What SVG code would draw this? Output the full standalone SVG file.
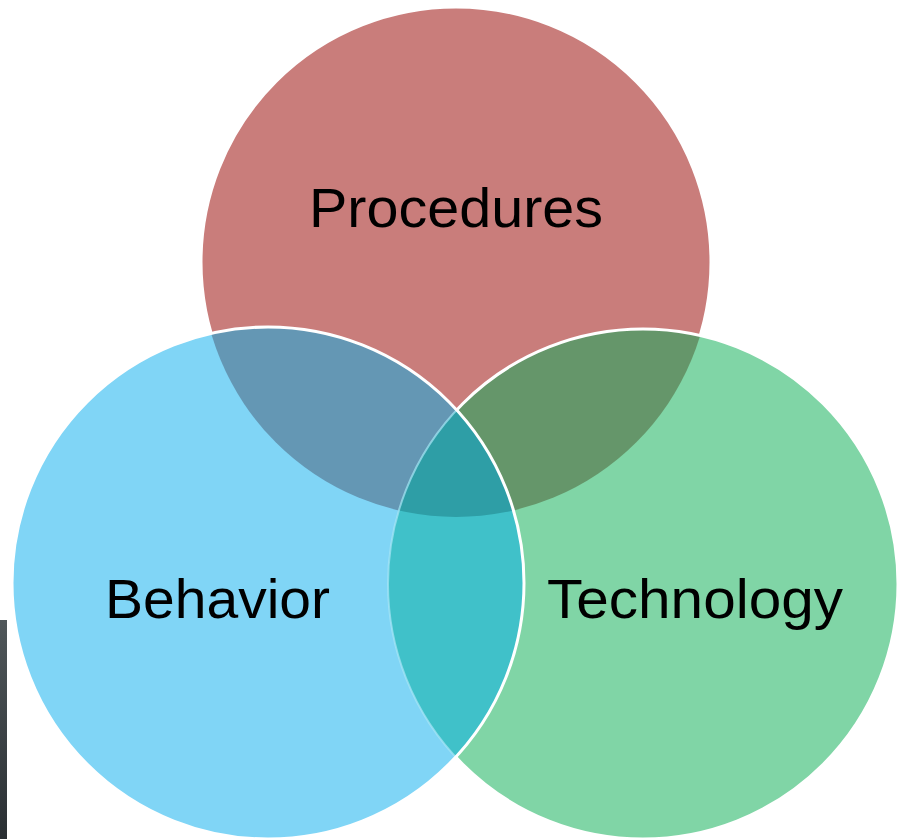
<svg xmlns="http://www.w3.org/2000/svg" width="903" height="839" viewBox="0 0 903 839">
  <defs>
    <linearGradient id="strip" x1="0" y1="0" x2="0" y2="1">
      <stop offset="0" stop-color="#50575a"/>
      <stop offset="1" stop-color="#2a2f33"/>
    </linearGradient>
    <clipPath id="cR"><circle cx="456" cy="262" r="255"/></clipPath>
    <clipPath id="cB"><circle cx="268" cy="583" r="256"/></clipPath>
    <clipPath id="cG"><circle cx="643" cy="584" r="255"/></clipPath>
    <mask id="outB">
      <rect width="903" height="839" fill="#fff"/>
      <circle cx="268" cy="583" r="256" fill="#000"/>
    </mask>
    <mask id="outBG">
      <rect width="903" height="839" fill="#fff"/>
      <circle cx="268" cy="583" r="256" fill="#000"/>
      <circle cx="643" cy="584" r="255" fill="#000"/>
    </mask>
  </defs>
  <style>
    .lbl { font-family: "Liberation Sans", Arial, sans-serif; font-size: 55px; fill: #000; text-anchor: middle; }
    .edge { fill: none; stroke: #fff; stroke-width: 3; }
  </style>
  <rect width="903" height="839" fill="#fff"/>
  <rect x="0" y="620" width="7" height="219" fill="url(#strip)"/>

  <g id="procedures">
    <circle cx="456" cy="262" r="255" fill="#C97D7B"/>
  </g>
  <g id="technology">
    <circle cx="643" cy="584" r="255" fill="#80D5A6"/>
  </g>
  <g id="behavior">
    <circle cx="268" cy="583" r="256" fill="#80D5F6"/>
  </g>

  <g id="overlaps">
    <g clip-path="url(#cR)"><circle cx="268" cy="583" r="256" fill="#6497B4"/></g>
    <g clip-path="url(#cR)"><circle cx="643" cy="584" r="255" fill="#65966A"/></g>
    <g clip-path="url(#cB)"><circle cx="643" cy="584" r="255" fill="#40C1C9"/></g>
    <g clip-path="url(#cB)"><g clip-path="url(#cR)"><circle cx="643" cy="584" r="255" fill="#2E9EA6"/></g></g>
  </g>

  <g id="connectors">
    <circle class="edge" cx="456" cy="262" r="255" mask="url(#outBG)"/>
    <circle class="edge" cx="643" cy="584" r="255" mask="url(#outB)"/>
    <g clip-path="url(#cB)"><circle cx="643" cy="584" r="255" fill="none" stroke="#a8e6f7" stroke-width="2" opacity="0.7"/></g>
    <circle class="edge" cx="268" cy="583" r="256"/>
  </g>

  <text class="lbl" x="456" y="227" textLength="294" lengthAdjust="spacingAndGlyphs">Procedures</text>
  <text class="lbl" x="217.5" y="618" textLength="225" lengthAdjust="spacingAndGlyphs">Behavior</text>
  <text class="lbl" x="695" y="618" textLength="296" lengthAdjust="spacingAndGlyphs">Technology</text>
</svg>
